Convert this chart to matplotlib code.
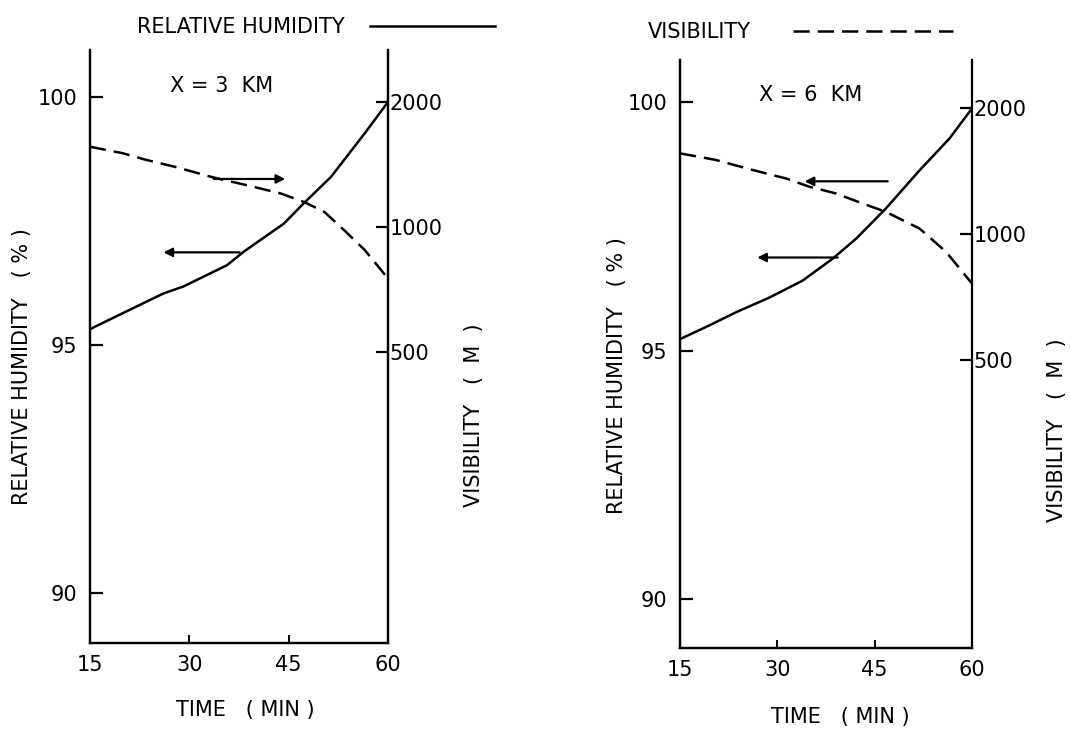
import numpy as np
import matplotlib.pyplot as plt
from matplotlib.ticker import FixedLocator, NullLocator, FixedFormatter

plt.rcParams['font.family'] = ['DejaVu Sans']

# x = 3 km
time_rh_3 = [15, 21.0, 26.1, 29.1, 35.7, 38.2, 44.3, 47.3, 51.4, 56.5, 60]
rh_3 = [95.32, 95.71, 96.04, 96.18, 96.61, 96.88, 97.45, 97.86, 98.39, 99.27, 99.9]
time_vis_3 = [15, 20.0, 23.5, 28.1, 33.6, 38.7, 43.8, 47.3, 50.4, 53.4, 56.5, 60]
vis_3 = [1559, 1503, 1449, 1391, 1315, 1259, 1203, 1148, 1086, 981, 879, 751]

# x = 6 km
time_rh_6 = [15, 19.4, 23.6, 28.8, 33.9, 38.5, 42.1, 46.7, 51.9, 56.5, 60]
rh_6 = [95.23, 95.50, 95.77, 96.07, 96.41, 96.85, 97.25, 97.86, 98.63, 99.27, 99.88]
time_vis_6 = [15, 20.5, 26.2, 31.3, 34.9, 39.0, 43.1, 46.7, 51.9, 56.0, 60]
vis_6 = [1555, 1500, 1419, 1355, 1295, 1248, 1181, 1128, 1029, 905, 760]

time_ticks = [15, 30, 45, 60]
rh_ticks = [90, 95, 100]
vis_ticks = [500, 1000, 2000]

DASH = (0, (6.5, 3.2))
LW = 1.8
TICK_FS = 15

fig = plt.figure(figsize=(10.7, 7.32), dpi=100)


def panel(rect, t_rh, rh, t_vis, vis, label, rh_lim, vis_lim, arrows, dashed_right,
          ylab_x, ylab_y, vlab_x, vlab_y, xlab_x, xlab_y):
    ax = fig.add_axes(rect)
    ax2 = ax.twinx()
    ax2.set_yscale('log')

    line_rh, = ax.plot(t_rh, rh, color='black', lw=LW)
    line_vis, = ax2.plot(t_vis, vis, color='black', lw=LW, linestyle=DASH)

    ax.set_xlim(15, 60)
    ax.set_ylim(*rh_lim)
    ax2.set_ylim(*vis_lim)

    for a in (ax, ax2):
        a.spines['top'].set_visible(False)
        for s in a.spines.values():
            s.set_linewidth(1.6)
    if dashed_right:
        ax2.spines['right'].set_linestyle((0, (4, 2)))
        ax2.spines['right'].set_linewidth(1.3)

    ax.set_xticks(time_ticks)
    ax.set_yticks(rh_ticks)
    ax2.yaxis.set_major_locator(FixedLocator(vis_ticks))
    ax2.yaxis.set_major_formatter(FixedFormatter([str(v) for v in vis_ticks]))
    ax2.yaxis.set_minor_locator(NullLocator())

    ax.tick_params(axis='y', direction='in', length=9, width=1.6, pad=9, labelsize=TICK_FS)
    ax.tick_params(axis='x', direction='in', length=6, width=1.4, pad=9, labelsize=TICK_FS)
    ax2.tick_params(axis='y', direction='in', length=9, width=1.6, pad=1, labelsize=TICK_FS)

    ax.set_ylabel('RELATIVE HUMIDITY   ( % )', fontsize=15)
    ax.yaxis.set_label_coords(ylab_x, ylab_y)
    ax2.set_ylabel('VISIBILITY   (  M  )', fontsize=15)
    ax2.yaxis.set_label_coords(vlab_x, vlab_y)
    ax.set_xlabel('TIME   ( MIN )', fontsize=15)
    ax.xaxis.set_label_coords(xlab_x, xlab_y)

    ax.text(0.27, 0.94, label, transform=ax.transAxes, fontsize=15, ha='left', va='center')

    # arrows pointing each curve to its own axis
    for tail, head in arrows:
        ax.annotate('', xy=head, xytext=tail,
                    arrowprops=dict(arrowstyle='-|>', color='black', lw=1.6,
                                    mutation_scale=13, shrinkA=0, shrinkB=0))
    return line_rh, line_vis


l_rh, l_vis = panel([0.084, 0.1216, 0.2785, 0.81], time_rh_3, rh_3, time_vis_3, vis_3,
                    'X = 3  KM', (88.99, 100.95), (99.3, 2665),
                    [((33.7, 98.35), (44.5, 98.35)), ((37.6, 96.87), (26.1, 96.87))],
                    False, -0.195, 0.467, 1.257, 0.384, 0.52, -0.096)

panel([0.6355, 0.1148, 0.273, 0.803], time_rh_6, rh_6, time_vis_6, vis_6,
      'X = 6  KM', (89.01, 100.85), (102.8, 2594),
      [((47.0, 98.41), (34.2, 98.41)), ((39.3, 96.875), (26.9, 96.875))],
      True, -0.182, 0.464, 1.255, 0.371, 0.548, -0.100)

fig.legend([l_rh], ['RELATIVE HUMIDITY'], markerfirst=False, frameon=False,
           loc='center left', bbox_to_anchor=(137 / 1070, 1 - 27 / 732),
           borderpad=0, borderaxespad=0, handlelength=6.0, handletextpad=1.2, fontsize=15)
fig.legend([l_vis], ['VISIBILITY'], markerfirst=False, frameon=False,
           loc='center left', bbox_to_anchor=(648 / 1070, 1 - 32 / 732),
           borderpad=0, borderaxespad=0, handlelength=7.7, handletextpad=2.0, fontsize=15)

fig.savefig('out.png', dpi=100, facecolor='white')
